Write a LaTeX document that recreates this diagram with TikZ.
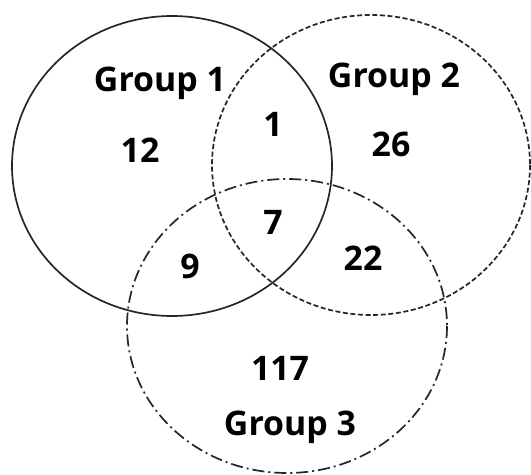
\documentclass[tikz,border=0pt]{standalone}
\usepackage{fontspec}
\setmainfont{Open Sans}
\begin{document}
\begin{tikzpicture}[x=1bp,y=-1bp,
  lbl/.style={anchor=base,inner sep=0pt,font=\fontsize{34}{40}\selectfont\bfseries},
  setline/.style={line width=1.7bp,draw=black!85}]
\useasboundingbox[fill=white] (0,0) rectangle (531,475);
\draw[setline] (172,166) ellipse [x radius=160,y radius=150];
\draw[setline,dash pattern=on 5bp off 2.6bp] (371,165) ellipse [x radius=159,y radius=150];
\draw[setline,dash pattern=on 12bp off 4bp on 2bp off 4bp] (287,326) ellipse [x radius=160,y radius=147];
\node[lbl] (g1) at (160,92) {Group 1};
\node[lbl] (g2) at (394,88) {Group 2};
\node[lbl] (n12) at (140,163) {12};
\node[lbl] (n1) at (273,137) {1};
\node[lbl] (n26) at (391,157) {26};
\node[lbl] (n7) at (273,235) {7};
\node[lbl] (n9) at (190,278) {9};
\node[lbl] (n22) at (363,270) {22};
\node[lbl] (n117) at (280,380) {117};
\node[lbl] (g3) at (290,435) {Group 3};
\end{tikzpicture}
\end{document}
